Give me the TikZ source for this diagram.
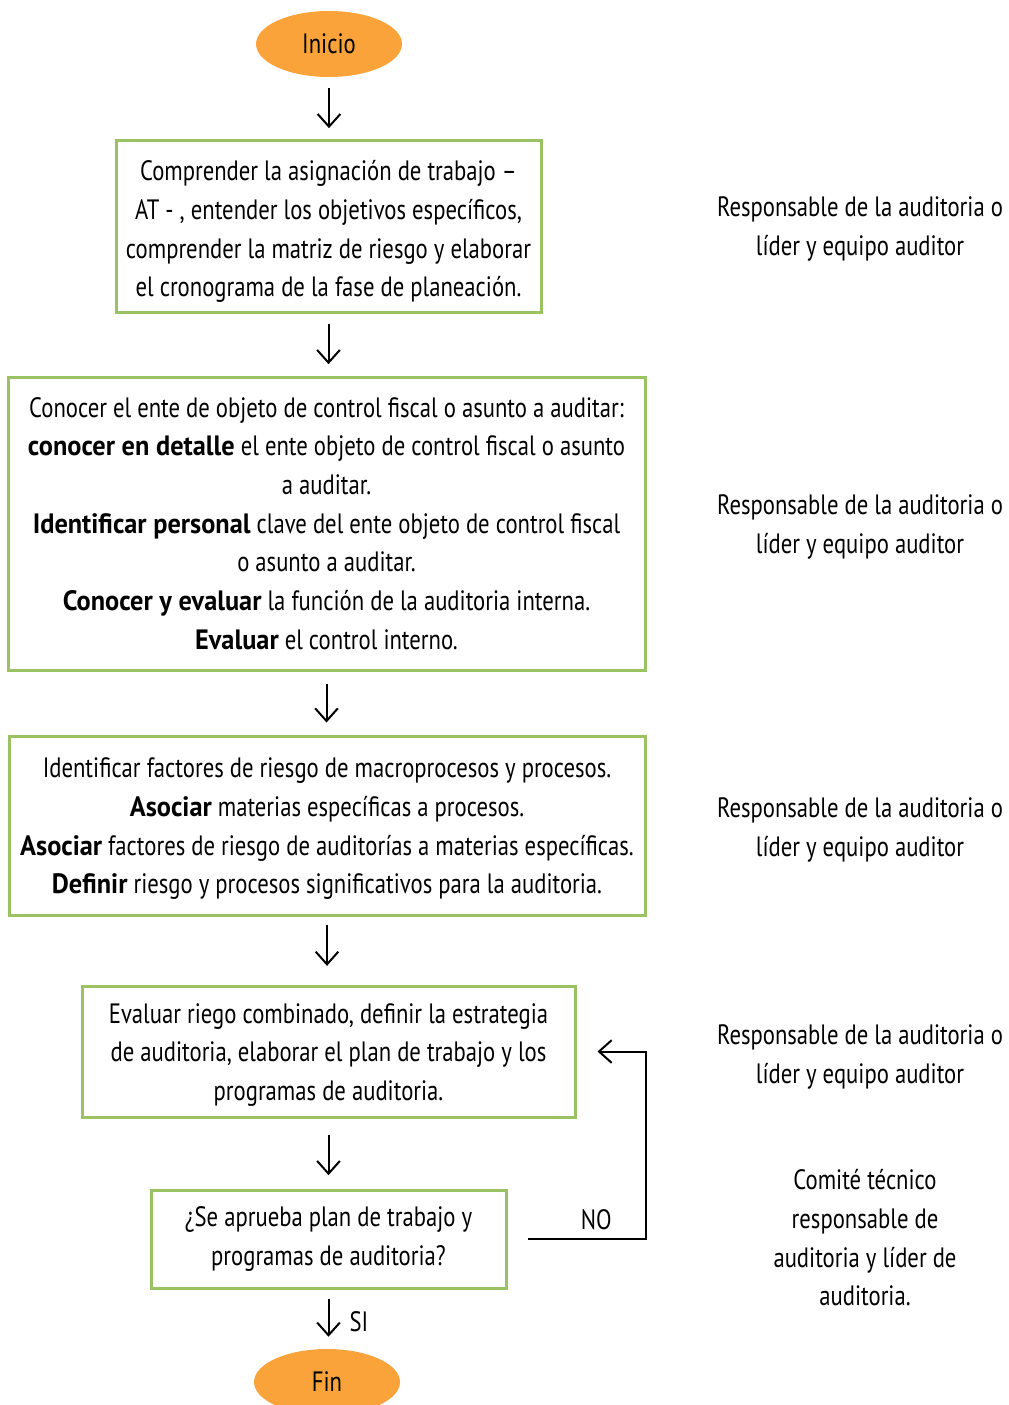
\documentclass[tikz,border=0pt]{standalone}
\usepackage{fontspec}
\setmainfont{PT Sans}[FakeStretch=0.81, BoldFeatures={FakeStretch=0.94}]
\usetikzlibrary{arrows.meta,shapes.geometric}
\definecolor{boxgreen}{HTML}{9BC262}
\definecolor{ovalorange}{HTML}{F9A33A}
\begin{document}
\begin{tikzpicture}[x=0.75pt,y=-0.75pt,
  txt/.style={font=\fontsize{21}{29}\selectfont, align=center, inner sep=0pt},
  stepbox/.style={txt, draw=boxgreen, line width=2.25pt, rectangle},
  term/.style={txt, ellipse, fill=ovalorange, minimum width=109.5pt, minimum height=49.5pt},
  arr/.style={-{Straight Barb[length=9.5pt,width=17pt]}, line width=1.5pt, black},
]
\useasboundingbox (0,0) rectangle (1008,1405);

\node[term] (inicio) at (329,44) {Inicio};

\node[stepbox, minimum width=318.75pt, minimum height=128.25pt] (b1) at (328.5,226.5)
 {\rule{0pt}{23pt}Comprender la asignación de trabajo –\\
  AT - , entender los objetivos específicos,\\
  comprender la matriz de riesgo y elaborar\\
  el cronograma de la fase de planeación.};

\node[stepbox, minimum width=477.75pt, minimum height=219.75pt] (b2) at (326.5,523.5)
 {Conocer el ente de objeto de control fiscal o asunto a auditar:\\
  \textbf{conocer en detalle} el ente objeto de control fiscal o asunto\\
  a auditar.\\
  \textbf{Identificar personal} clave del ente objeto de control fiscal\\
  o asunto a auditar.\\
  \textbf{Conocer y evaluar} la función de la auditoria interna.\\
  \textbf{Evaluar} el control interno.};

\node[stepbox, minimum width=477pt, minimum height=134.25pt] (b3) at (327,825.5)
 {\rule{0pt}{20pt}Identificar factores de riesgo de macroprocesos y procesos.\\
  \textbf{Asociar} materias específicas a procesos.\\
  \textbf{Asociar} factores de riesgo de auditorías a materias específicas.\\
  \textbf{Definir} riesgo y procesos significativos para la auditoria.};

\node[stepbox, minimum width=369.75pt, minimum height=98.25pt] (b4) at (328.5,1051.5)
 {\rule{0pt}{20pt}Evaluar riego combinado, definir la estrategia\\
  de auditoria, elaborar el plan de trabajo y los\\
  programas de auditoria.};

\node[stepbox, minimum width=266.25pt, minimum height=73.5pt] (b5) at (328.5,1239)
 {¿Se aprueba plan de trabajo y\\
  programas de auditoria?};

\node[term] (fin) at (327,1382) {Fin};

% right-hand responsibility notes
\node[txt] (r1) at (860,229) {Responsable de la auditoria o\\ líder y equipo auditor};
\node[txt] (r2) at (860,527) {Responsable de la auditoria o\\ líder y equipo auditor};
\node[txt] (r3) at (860,830) {Responsable de la auditoria o\\ líder y equipo auditor};
\node[txt] (r4) at (860,1057) {Responsable de la auditoria o\\ líder y equipo auditor};
\node[txt] (r5) at (865,1238) {Comité técnico\\ responsable de\\ auditoria y líder de\\ auditoria.};

% connectors
\draw[arr, shorten <=8pt, shorten >=8.5pt] (inicio.south) -- (inicio.south |- b1.north);
\draw[arr, shorten <=7.5pt, shorten >=8.5pt] (b1.south) -- (b1.south |- b2.north);
\draw[arr, shorten <=9pt, shorten >=9pt] (b2.south) -- (b2.south |- b3.north);
\draw[arr, shorten <=6pt, shorten >=14pt] (b3.south) -- (b3.south |- b4.north);
\draw[arr, shorten <=12pt, shorten >=10pt] (b4.south) -- (b4.south |- b5.north);
\draw[arr, shorten <=7pt, shorten >=9pt] (b5.south) -- node[txt, right=15pt, yshift=-2pt] (si) {SI} (b5.south |- fin.north);

\coordinate (loopc) at (646,1146);
\draw[arr, shorten <=15pt, shorten >=15.75pt] (b5.east) -- node[txt, pos=0.64, above=6pt] (no) {NO} (b5.east -| loopc) |- (b4.east);
\end{tikzpicture}
\end{document}
